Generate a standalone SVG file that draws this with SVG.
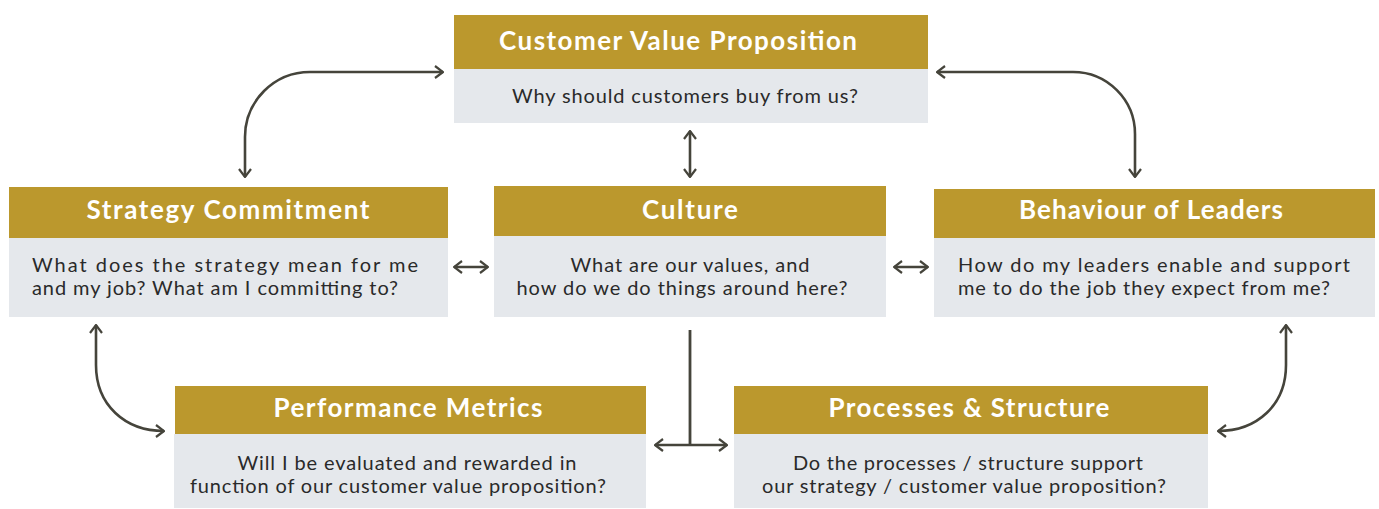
<svg xmlns="http://www.w3.org/2000/svg" width="1379" height="509" viewBox="0 0 1379 509">
<style>
.hd{fill:#BB982D}
.bd{fill:#E5E8EC}
.ht{font-family:Lato,"Open Sans",sans-serif;font-weight:700;font-size:26px;fill:#fff;text-anchor:middle}
.bt{font-family:Lato,"Open Sans",sans-serif;font-size:20px;fill:#2a2a2a}
.c{text-anchor:middle}
.cn{fill:none;stroke:#45443b;stroke-width:2.6;marker-start:url(#ah);marker-end:url(#ah)}
</style>
<defs>
<marker id="ah" viewBox="0 0 10 14" refX="9" refY="7" markerWidth="10" markerHeight="14" markerUnits="userSpaceOnUse" orient="auto-start-reverse">
<path d="M1,1 L9,7 L1,13" fill="none" stroke="#45443b" stroke-width="2.2"/>
</marker>
</defs>
<rect width="1379" height="509" fill="#fff"/>
<g id="connectors">
<path class="cn" d="M443,72 H310 A65,65 0 0 0 245,137 V177"/>
<path class="cn" d="M937,72 H1073 A62,62 0 0 1 1135,134 V177"/>
<path class="cn" d="M690,131 V177"/>
<path class="cn" d="M454,267 H488"/>
<path class="cn" d="M894,267 H928"/>
<path class="cn" d="M96,325 V365 C96,405 125,431 164,431"/>
<path class="cn" d="M1286,325 V365 C1286,405 1257,431 1218,431"/>
<path d="M690,330 V445" fill="none" stroke="#45443b" stroke-width="2.8"/>
<path class="cn" d="M655,445 H727"/>
</g>
<g id="customer-value-proposition">
<rect class="hd" x="454" y="15" width="474" height="54"/>
<rect class="bd" x="454" y="69" width="474" height="54"/>
<text class="ht" x="678" y="50" textLength="358">Customer Value Proposition</text>
<text class="bt c" x="685" y="103" textLength="346">Why should customers buy from us?</text>
</g>
<g id="strategy-commitment">
<rect class="hd" x="9" y="187" width="439" height="51"/>
<rect class="bd" x="9" y="238" width="439" height="79"/>
<text class="ht" x="228" y="219" textLength="283">Strategy Commitment</text>
<text class="bt" x="32" y="272" textLength="386">What does the strategy mean for me</text>
<text class="bt" x="32" y="295" textLength="366">and my job? What am I committing to?</text>
</g>
<g id="culture">
<rect class="hd" x="494" y="186" width="392" height="50"/>
<rect class="bd" x="494" y="236" width="392" height="81"/>
<text class="ht" x="690" y="219" textLength="96">Culture</text>
<text class="bt c" x="690" y="272" textLength="239">What are our values, and</text>
<text class="bt c" x="682" y="295" textLength="331">how do we do things around here?</text>
</g>
<g id="behaviour-of-leaders">
<rect class="hd" x="934" y="189" width="441" height="49"/>
<rect class="bd" x="934" y="238" width="441" height="79"/>
<text class="ht" x="1151" y="219" textLength="264">Behaviour of Leaders</text>
<text class="bt" x="958" y="272" textLength="392">How do my leaders enable and support</text>
<text class="bt" x="958" y="295" textLength="372">me to do the job they expect from me?</text>
</g>
<g id="performance-metrics">
<rect class="hd" x="175" y="386" width="471" height="48"/>
<rect class="bd" x="174" y="434" width="472" height="74"/>
<text class="ht" x="408" y="417" textLength="269">Performance Metrics</text>
<text class="bt c" x="407" y="470" textLength="339">Will I be evaluated and rewarded in</text>
<text class="bt c" x="398" y="493" textLength="416">function of our customer value proposition?</text>
</g>
<g id="processes-structure">
<rect class="hd" x="734" y="386" width="474" height="48"/>
<rect class="bd" x="734" y="434" width="474" height="74"/>
<text class="ht" x="969" y="417" textLength="281">Processes &amp; Structure</text>
<text class="bt c" x="968" y="470" textLength="350">Do the processes / structure support</text>
<text class="bt c" x="964" y="493" textLength="404">our strategy / customer value proposition?</text>
</g>
</svg>
